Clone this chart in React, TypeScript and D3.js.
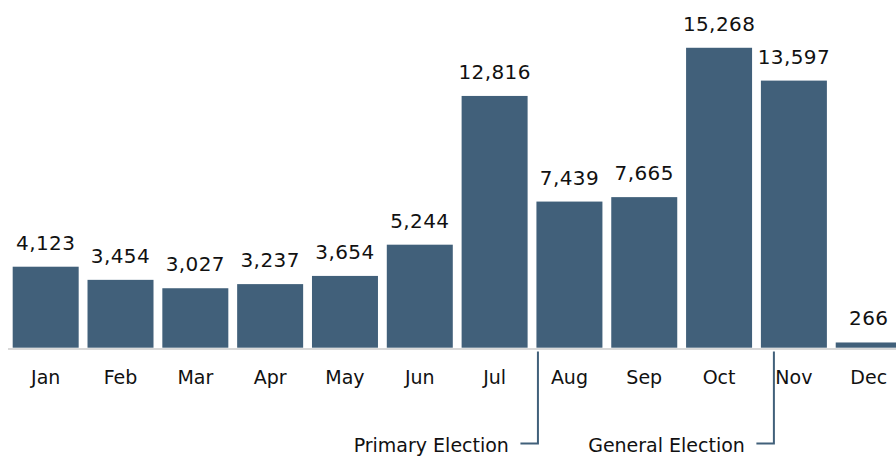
import React, { useEffect, useRef } from 'react';
import * as d3 from 'd3';

const months = ['Jan', 'Feb', 'Mar', 'Apr', 'May', 'Jun', 'Jul', 'Aug', 'Sep', 'Oct', 'Nov', 'Dec'];
const counts = [4123, 3454, 3027, 3237, 3654, 5244, 12816, 7439, 7665, 15268, 13597, 266];
const annotationLabels = ['Primary Election', 'General Election'];
const annotationMonths = ['Aug', 'Nov'];

const BAR_COLOR = '#41607A';
const FONT = '"DejaVu Sans", sans-serif';

const App: React.FC = () => {
  const svgRef = useRef<SVGSVGElement>(null);
  const width = 896;
  const height = 458;

  useEffect(() => {
    if (!svgRef.current) return;
    d3.select(svgRef.current).selectAll('*').remove();

    const svg = d3.select(svgRef.current)
      .attr('width', width)
      .attr('height', height);

    const baseline = 347.7;

    // band scale runs past the right edge, Dec gets clipped like the original
    const x = d3.scaleBand<string>()
      .domain(months)
      .range([8.2, 906.2])
      .paddingInner(0.118)
      .paddingOuter(0.06);

    const y = d3.scaleLinear()
      .domain([0, 17700])
      .range([baseline, 0]);

    // bars
    svg.append('g')
      .selectAll('rect')
      .data(counts)
      .join('rect')
      .attr('x', (_, i) => x(months[i])!)
      .attr('y', d => y(d))
      .attr('width', x.bandwidth())
      .attr('height', d => baseline - y(d))
      .style('fill', BAR_COLOR);

    // axis line
    svg.append('line')
      .attr('x1', 8)
      .attr('x2', width)
      .attr('y1', baseline + 1.3)
      .attr('y2', baseline + 1.3)
      .style('stroke', '#d9d9d9')
      .style('stroke-width', 2);

    // value labels
    svg.append('g')
      .selectAll('text')
      .data(counts)
      .join('text')
      .attr('x', (_, i) => x(months[i])! + x.bandwidth() / 2)
      .attr('y', d => y(d) - 17)
      .attr('text-anchor', 'middle')
      .style('font-family', FONT)
      .style('font-size', '20px')
      .style('letter-spacing', '0.4px')
      .style('fill', '#111')
      .text(d => d3.format(',')(d));

    // month labels
    svg.append('g')
      .selectAll('text')
      .data(months)
      .join('text')
      .attr('x', d => x(d)! + x.bandwidth() / 2)
      .attr('y', 384)
      .attr('text-anchor', 'middle')
      .style('font-family', FONT)
      .style('font-size', '19px')
      .style('fill', '#111')
      .text(d => d);

    // election brackets
    const offsets = [1.5, 13];
    annotationLabels.forEach((label, i) => {
      const lx = x(annotationMonths[i])! + offsets[i];
      const ly = 443.5;
      svg.append('path')
        .attr('d', `M${lx},351.5 V${ly} H${lx - 17.5}`)
        .style('fill', 'none')
        .style('stroke', BAR_COLOR)
        .style('stroke-width', 2);
      svg.append('text')
        .attr('x', lx - 29)
        .attr('y', 451.5)
        .attr('text-anchor', 'end')
        .style('font-family', FONT)
        .style('font-size', '19px')
        .style('fill', '#111')
        .text(label);
    });
  }, []);

  return (
    <div style={{ position: 'fixed', left: 0, top: 0, width, height, background: '#fff' }}>
      <svg ref={svgRef} style={{ display: 'block' }} />
    </div>
  );
};

export default App;
